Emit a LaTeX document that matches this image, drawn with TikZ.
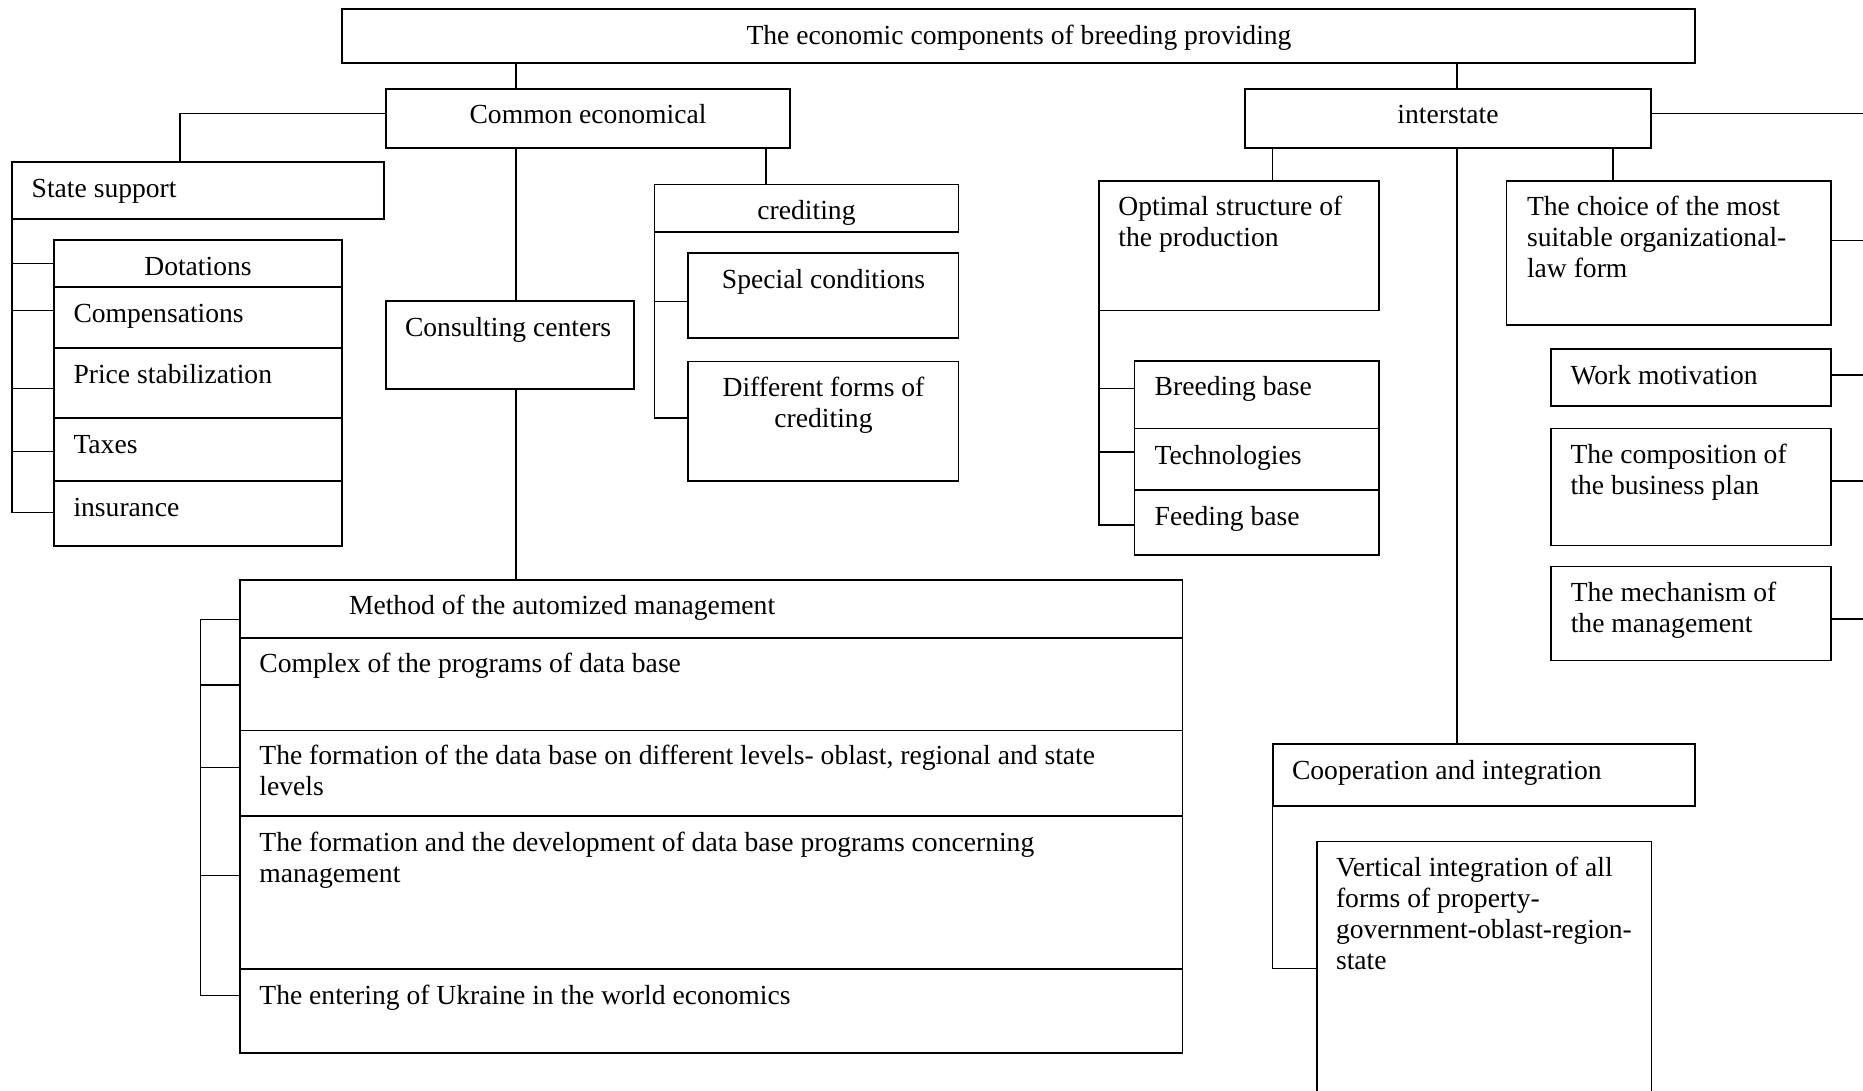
\documentclass[tikz,border=0pt]{standalone}
\usepackage{fontspec}
\setmainfont{Liberation Serif}
\usetikzlibrary{fit}
\newcommand{\fs}{\fontsize{13.8}{15.5}\selectfont}
\tikzset{
  bx/.style={draw, line width=0.85pt, inner sep=0pt, outer sep=0pt, minimum size=0pt},
  cn/.style={line width=0.7pt},
  tl/.style={anchor=north west, inner sep=0pt, outer sep=0pt, align=left, font=\fs},
  tc/.style={anchor=north, inner sep=0pt, outer sep=0pt, align=center, font=\fs}
}
% box: name, x1, y1, x2, y2 (pixels, y downwards)
\newcommand{\bx}[5]{\node[bx, fit={(#2,#3)(#4,#5)}] (#1) {};}
% left text: name, x, baseline, text
\newcommand{\tl}[4]{\node[tl] (#1) at (#2,{#3-20.5}) {\strut #4};}
% centred text: name, x, baseline, text
\newcommand{\tcn}[4]{\node[tc] (#1) at (#2,{#3-20.5}) {\strut #4};}
\begin{document}
\begin{tikzpicture}[x=0.5pt, y=-0.5pt]
\clip (0,0) rectangle (1863,1091);
\fill[white] (0,0) rectangle (1863,1091);

% ---------- boxes ----------
\bx{top}{342}{9}{1695}{63}
\bx{common}{386}{89}{790}{148}
\bx{inter}{1245}{89}{1651}{148}
\bx{state}{12}{162}{384}{219.3}
\bx{dot}{54}{240}{342}{287}
\bx{comp}{54}{287}{342}{348}
\bx{price}{54}{348}{342}{418}
\bx{tax}{54}{418}{342}{481}
\bx{ins}{54}{481}{342}{546}
\bx{consult}{386}{301}{634}{389}
\bx{cred}{654.5}{184.6}{958.5}{231.8}
\bx{spec}{688}{253}{958.5}{338}
\bx{diff}{688}{361.4}{958.5}{481}
\bx{mA}{240}{580}{1182.6}{638}
\bx{mB}{240}{638}{1182.6}{730.4}
\bx{mC}{240}{730.4}{1182.6}{816.2}
\bx{mD}{240}{816.2}{1182.6}{969}
\bx{mE}{240}{969}{1182.6}{1053}
\bx{opt}{1099}{180.7}{1378.7}{310.4}
\bx{breed}{1134.5}{360.7}{1378.7}{428.6}
\bx{tech}{1134.5}{428.6}{1378.7}{490}
\bx{feed}{1134.5}{490}{1378.7}{555}
\bx{choice}{1506.5}{180.7}{1830.8}{325}
\bx{work}{1551}{349}{1831}{406}
\bx{bplan}{1551}{428.6}{1831}{545.4}
\bx{mech}{1551}{566.4}{1831}{660.5}
\bx{coop}{1272.7}{743.8}{1695}{806}
\bx{vert}{1316.7}{841.5}{1651.6}{1130}

% ---------- texts ----------
\tcn{ttop}{1019}{43}{The economic components of breeding providing}
\tcn{tcommon}{588}{122.5}{Common economical}
\tcn{tinter}{1448}{122.5}{interstate}
\tl{tstate}{31.7}{196.7}{State support}
\tcn{tdot}{198}{274}{Dotations}
\tl{tcomp}{73.5}{321.7}{Compensations}
\tl{tprice}{73.5}{382.5}{Price stabilization}
\tl{ttax}{73.5}{452}{Taxes}
\tl{tins}{73.5}{515}{insurance}
\tl{tconsult}{405}{335}{Consulting centers}
\tcn{tcred}{806.5}{218.6}{crediting}
\tcn{tspec}{823.5}{287}{Special conditions}
\tcn{tdiff}{823.5}{395.4}{Different forms of\\crediting}
\tl{tmA}{349}{613.5}{Method of the automized management}
\tl{tmB}{259.4}{671.5}{Complex of the programs of data base}
\tl{tmC}{259.4}{763.5}{The formation of the data base on different levels- oblast, regional and state\\levels}
\tl{tmD}{259.4}{850}{The formation and the development of data base programs concerning\\management}
\tl{tmE}{259.4}{1003.5}{The entering of Ukraine in the world economics}
\tl{topt}{1118.4}{214.5}{Optimal structure of\\the production}
\tl{tbreed}{1154.7}{394.5}{Breeding base}
\tl{ttech}{1154.7}{463}{Technologies}
\tl{tfeed}{1154.7}{524}{Feeding base}
\tl{tchoice}{1527}{214.5}{The choice of the most\\suitable organizational-\\law form}
\tl{twork}{1570.5}{383}{Work motivation}
\tl{tbplan}{1570.5}{462}{The composition of\\the business plan}
\tl{tmech}{1570.8}{600.5}{The mechanism of\\the management}
\tl{tcoop}{1292}{778}{Cooperation and integration}
\tl{tvert}{1336}{875}{Vertical integration of all\\forms of property-\\government-oblast-region-\\state}

% ---------- helper coordinates ----------
\coordinate (xA) at (516,0);
\coordinate (xC) at (766,0);
\coordinate (xS) at (180,113.6);
\coordinate (xI) at (1457,0);
\coordinate (xO) at (1272.7,0);
\coordinate (xH) at (1613,0);
\coordinate (rI) at (1863,113.6);
\coordinate (rC) at (1863,240.4);
\coordinate (rW) at (1863,375);
\coordinate (rB) at (1863,481);
\coordinate (rM) at (1863,619);
\coordinate (mb) at (200.2,619.4);
\coordinate (y1) at (0,263.3);
\coordinate (y2) at (0,310.7);
\coordinate (y3) at (0,388.2);
\coordinate (y4) at (0,451.4);
\coordinate (y5) at (0,512.5);
\coordinate (c1) at (0,301.8);
\coordinate (c2) at (0,417.9);
\coordinate (m2) at (0,684.8);
\coordinate (m3) at (0,767.3);
\coordinate (m4) at (0,875.6);
\coordinate (m5) at (0,995.7);
\coordinate (o1) at (0,388.2);
\coordinate (o2) at (0,451.8);
\coordinate (o3) at (0,525);
\coordinate (v1) at (0,968.7);

% ---------- connectors ----------
\draw[cn] (xA |- top.south) -- (xA |- common.north);
\draw[cn] (xA |- common.south) -- (xA |- consult.north);
\draw[cn] (xA |- consult.south) -- (xA |- mA.north);
\draw[cn] (common.west |- xS) -- (xS) -- (xS |- state.north);
\draw[cn] (xC |- common.south) -- (xC |- cred.north);
% state support bracket
\draw[cn] (state.south west) |- (dot.west |- y1);
\draw[cn] (state.south west) |- (comp.west |- y2);
\draw[cn] (state.south west) |- (price.west |- y3);
\draw[cn] (state.south west) |- (tax.west |- y4);
\draw[cn] (state.south west) |- (ins.west |- y5);
% crediting bracket
\draw[cn] (cred.south west) |- (spec.west |- c1);
\draw[cn] (cred.south west) |- (diff.west |- c2);
% method bracket
\draw[cn] (mA.west |- mb) -- (mb);
\draw[cn] (mb) |- (mB.west |- m2);
\draw[cn] (mb) |- (mC.west |- m3);
\draw[cn] (mb) |- (mD.west |- m4);
\draw[cn] (mb) |- (mE.west |- m5);
% interstate
\draw[cn] (xI |- top.south) -- (xI |- inter.north);
\draw[cn] (xI |- inter.south) -- (xI |- coop.north);
\draw[cn] (xO |- inter.south) -- (xO |- opt.north);
\draw[cn] (xH |- inter.south) -- (xH |- choice.north);
\draw[cn] (inter.east |- rI) -- (rI);
\draw[cn] (choice.east |- rC) -- (rC);
\draw[cn] (work.east |- rW) -- (rW);
\draw[cn] (bplan.east |- rB) -- (rB);
\draw[cn] (mech.east |- rM) -- (rM);
% optimal structure bracket
\draw[cn] (opt.south west) |- (breed.west |- o1);
\draw[cn] (opt.south west) |- (tech.west |- o2);
\draw[cn] (opt.south west) |- (feed.west |- o3);
% cooperation bracket
\draw[cn] (coop.south west) |- (vert.west |- v1);
\end{tikzpicture}
\end{document}
